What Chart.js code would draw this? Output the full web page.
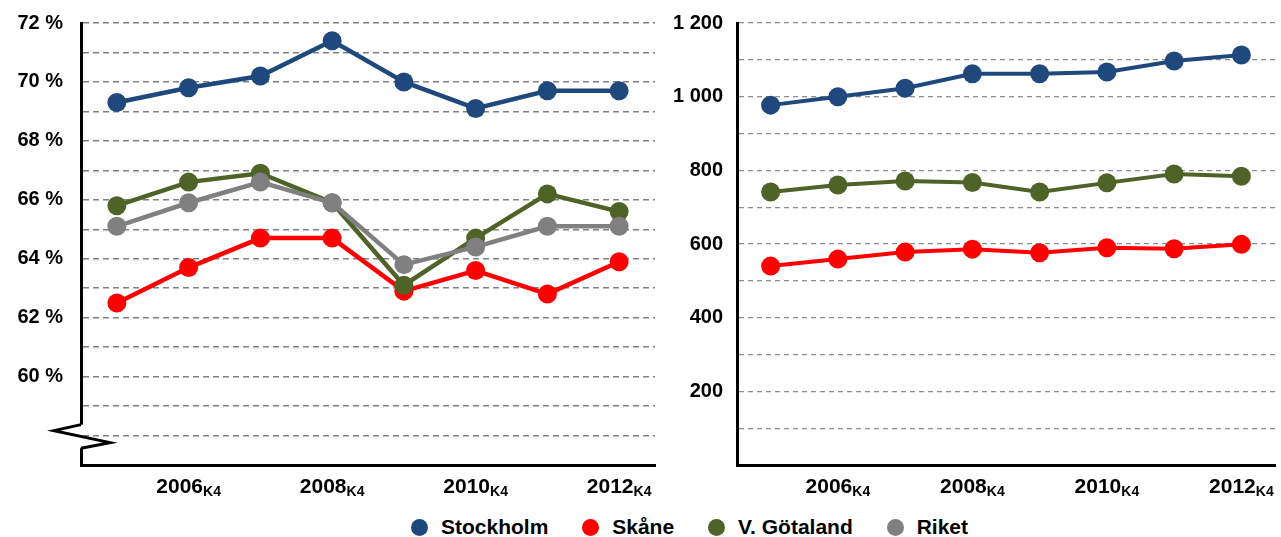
<!DOCTYPE html>
<html>
<head>
<meta charset="utf-8">
<script src="https://cdn.jsdelivr.net/npm/chart.js@4.4.1/dist/chart.umd.min.js"></script>
<style>
  body { margin: 0; background: #fff; width: 1281px; height: 537px; overflow: hidden; position: relative;
         font-family: "Liberation Sans", Arial, sans-serif; }
  #leftBox { position: absolute; left: 0; top: 0; width: 660px; height: 500px; }
  #rightBox { position: absolute; left: 660px; top: 0; width: 621px; height: 500px; }
  #legend { position: absolute; left: 411px; width: 557px; top: 515px; height: 24px; display: flex;
            justify-content: space-between; align-items: center; font-weight: bold; font-size: 21px; color: #000; }
  .item { display: flex; align-items: center; }
  .dot { width: 17px; height: 17px; border-radius: 50%; margin-right: 13px; }
</style>
</head>
<body>
<div id="leftBox"><canvas id="left"></canvas></div>
<div id="rightBox"><canvas id="right"></canvas></div>
<div id="legend"></div>
<script>
// categories (quarter 4 of every year)
const categories = ['2005K4', '2006K4', '2007K4', '2008K4', '2009K4', '2010K4', '2011K4', '2012K4'];
const xTickYears = ['', '2006', '', '2008', '', '2010', '', '2012'];
const xTickSub = 'K4';

// left chart, per cent
const stockholmPct = [69.3, 69.8, 70.2, 71.4, 70.0, 69.1, 69.7, 69.7];
const skanePct     = [62.5, 63.7, 64.7, 64.7, 62.9, 63.6, 62.8, 63.9];
const vgotalandPct = [65.8, 66.6, 66.9, 65.9, 63.1, 64.7, 66.2, 65.6];
const riketPct     = [65.1, 65.9, 66.6, 65.9, 63.8, 64.4, 65.1, 65.1];

// right chart, counts (thousands)
const stockholmNum = [977, 1000, 1023, 1062, 1062, 1067, 1097, 1113];
const skaneNum     = [540, 559, 578, 586, 576, 590, 587, 599];
const vgotalandNum = [741, 760, 771, 767, 741, 766, 790, 784];

// tick labels
const leftYLabels = [60, 62, 64, 66, 68, 70, 72];
const rightYLabels = [200, 400, 600, 800, 1000, 1200];

const seriesNames = ['Stockholm', 'Skåne', 'V. Götaland', 'Riket'];
const seriesColors = ['#1F497D', '#FF0000', '#4F6228', '#808080'];

const FONT = '"Liberation Sans", Arial, sans-serif';

//custom x labels with the subscript K4
const xLabelPlugin = {
  id: 'xLabels',
  afterDraw(chart) {
    const ctx = chart.ctx;
    const xs = chart.scales.x;
    const base = chart.chartArea.bottom + 28;
    const big = 'bold 21px ' + FONT, small = 'bold 14px ' + FONT;
    ctx.save();
    ctx.fillStyle = '#000';
    ctx.textBaseline = 'alphabetic';
    ctx.textAlign = 'left';
    xTickYears.forEach((yr, i) => {
      if (!yr) return;
      ctx.font = big;
      const w1 = ctx.measureText(yr).width;
      ctx.font = small;
      const w2 = ctx.measureText(xTickSub).width;
      const x0 = xs.getPixelForValue(i) - (w1 + w2) / 2;
      ctx.font = big;
      ctx.fillText(yr, x0, base);
      ctx.font = small;
      ctx.fillText(xTickSub, x0 + w1, base + 2.5);
    });
    ctx.restore();
  }
};

//zigzag break on the left axis
const breakPlugin = {
  id: 'axisBreak',
  afterDraw(chart) {
    const ctx = chart.ctx;
    const ys = chart.scales.y;
    const x = chart.chartArea.left;
    const yTop = ys.getPixelForValue(58.37);
    const yBot = ys.getPixelForValue(57.57);
    ctx.save();
    ctx.fillStyle = '#fff';
    ctx.fillRect(x - 3, yTop, 6, yBot - yTop);
    ctx.strokeStyle = '#000';
    ctx.lineWidth = 3;
    ctx.lineJoin = 'miter';
    ctx.beginPath();
    ctx.moveTo(x, yTop);
    ctx.lineTo(x - 27, yTop + 6);
    ctx.lineTo(x + 29, yTop + 18);
    ctx.lineTo(x, yBot);
    ctx.stroke();
    ctx.restore();
  }
};

function line(label, data, color, order, width) {
  return {
    label: label, data: data, order: order,
    borderColor: color, backgroundColor: color,
    borderWidth: width, pointRadius: 9.5, pointBorderWidth: 0,
    pointBackgroundColor: color, tension: 0
  };
}

function spaced(v) {
  return String(v).replace(/\B(?=(\d{3})+(?!\d))/g, ' ');
}

function noPad(s) {
  s.paddingTop = 0; s.paddingBottom = 0; s.paddingLeft = 0; s.paddingRight = 0;
}

const leftChart = new Chart(document.getElementById('left'), {
  type: 'line',
  data: {
    labels: categories,
    datasets: [
      line(seriesNames[0], stockholmPct, seriesColors[0], 0, 4.5),
      line(seriesNames[1], skanePct, seriesColors[1], 3, 4.5),
      line(seriesNames[2], vgotalandPct, seriesColors[2], 2, 4.5),
      line(seriesNames[3], riketPct, seriesColors[3], 1, 4.5)
    ]
  },
  options: {
    responsive: true, maintainAspectRatio: false, animation: false,
    layout: { autoPadding: false, padding: { top: 23, right: 5, left: 0, bottom: 0 } },
    plugins: { legend: { display: false }, tooltip: { enabled: false } },
    scales: {
      x: {
        offset: true,
        grid: { display: false },
        ticks: { display: false },
        border: { color: '#000', width: 3 },
        afterFit(s) { s.height = 35; noPad(s); }
      },
      y: {
        min: 57, max: 72,
        grid: { color: '#808080', lineWidth: 1.5, drawTicks: false },
        border: { color: '#000', width: 3, dash: [6, 4] },
        ticks: {
          padding: 18, autoSkip: false, color: '#000',
          font: { family: FONT, weight: 'bold', size: 20 },
          callback: v => leftYLabels.includes(v) ? v + ' %' : ''
        },
        afterBuildTicks(s) {
          const t = [];
          for (let v = 57; v <= 72; v++) t.push({ value: v });
          s.ticks = t;
        },
        afterFit(s) { s.width = 81; noPad(s); }
      }
    }
  },
  plugins: [xLabelPlugin, breakPlugin]
});

const rightChart = new Chart(document.getElementById('right'), {
  type: 'line',
  data: {
    labels: categories,
    datasets: [
      line(seriesNames[0], stockholmNum, seriesColors[0], 0, 4),
      line(seriesNames[1], skaneNum, seriesColors[1], 2, 4),
      line(seriesNames[2], vgotalandNum, seriesColors[2], 1, 4)
    ]
  },
  options: {
    responsive: true, maintainAspectRatio: false, animation: false,
    layout: { autoPadding: false, padding: { top: 23, right: 6, left: 0, bottom: 0 } },
    plugins: { legend: { display: false }, tooltip: { enabled: false } },
    scales: {
      x: {
        offset: true,
        grid: { display: false },
        ticks: { display: false },
        border: { color: '#000', width: 3 },
        afterFit(s) { s.height = 35; noPad(s); }
      },
      y: {
        min: 0, max: 1200,
        grid: { color: '#8c8c8c', lineWidth: 1.3, drawTicks: false },
        border: { color: '#000', width: 3, dash: [5, 4] },
        ticks: {
          padding: 14, autoSkip: false, color: '#000',
          font: { family: FONT, weight: 'bold', size: 20 },
          callback: v => rightYLabels.includes(v) ? spaced(v) : ''
        },
        afterBuildTicks(s) {
          const t = [];
          for (let v = 0; v <= 1200; v += 100) t.push({ value: v });
          s.ticks = t;
        },
        afterFit(s) { s.width = 77; noPad(s); }
      }
    }
  },
  plugins: [xLabelPlugin]
});

// legend shared by both charts
const legend = document.getElementById('legend');
seriesNames.forEach((name, i) => {
  const item = document.createElement('div');
  item.className = 'item';
  item.innerHTML = '<span class="dot" style="background:' + seriesColors[i] + '"></span><span>' + name + '</span>';
  legend.appendChild(item);
});
</script>
</body>
</html>
